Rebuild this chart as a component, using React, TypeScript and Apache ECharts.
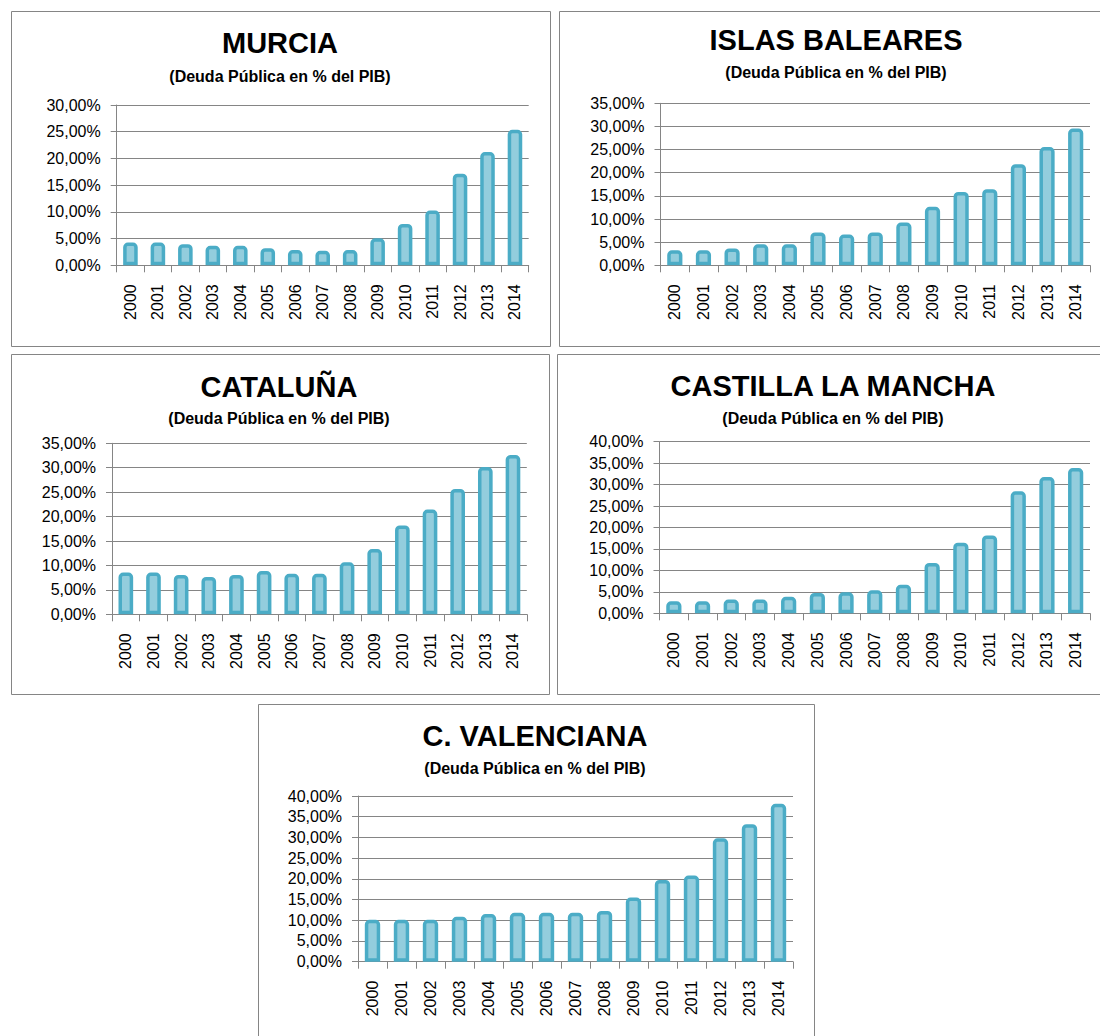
import React, { useEffect, useRef } from "react";
import * as echarts from "echarts";

const YEARS = ["2000", "2001", "2002", "2003", "2004", "2005", "2006", "2007", "2008", "2009", "2010", "2011", "2012", "2013", "2014"];

const MURCIA = [4.25, 4.25, 3.95, 3.65, 3.65, 3.2, 2.85, 2.7, 2.85, 5.05, 7.75, 10.25, 17.15, 21.2, 25.35];
const BALEARES = [3.25, 3.25, 3.65, 4.55, 4.55, 7.1, 6.65, 7.1, 9.25, 12.65, 15.85, 16.45, 21.85, 25.55, 29.55];
const CATALUNA = [8.55, 8.55, 8.05, 7.65, 8.05, 8.85, 8.3, 8.3, 10.65, 13.35, 18.2, 21.45, 25.65, 30.15, 32.6];
const CASTILLA = [2.8, 2.8, 3.2, 3.2, 3.85, 4.75, 4.9, 5.35, 6.65, 11.75, 16.45, 18.15, 28.45, 31.75, 33.85];
const VALENCIANA = [10.1, 10.1, 10.1, 10.85, 11.5, 11.8, 11.8, 11.8, 12.25, 15.5, 19.75, 20.8, 29.8, 33.2, 38.1];

const TITLES = ["MURCIA", "ISLAS BALEARES", "CATALUÑA", "CASTILLA LA MANCHA", "C. VALENCIANA"];
const SUBTITLE = "(Deuda Pública en % del PIB)";
const Y_MAX = [30, 35, 35, 40, 40];
const SERIES = [MURCIA, BALEARES, CATALUNA, CASTILLA, VALENCIANA];

// layout (pixels)
const BOXES = [
  { x: 11.5, y: 11.5, w: 539, h: 335 },
  { x: 559.5, y: 11.5, w: 570, h: 335 },
  { x: 11.5, y: 354.5, w: 538, h: 340 },
  { x: 557.5, y: 354.5, w: 570, h: 340 },
  { x: 258.5, y: 704.5, w: 556, h: 360 },
];
const GRIDS = [
  { left: 116.7, top: 105, width: 412, height: 160.3 },
  { left: 660.5, top: 103.3, width: 429.5, height: 162 },
  { left: 112, top: 443.3, width: 414.8, height: 171 },
  { left: 659.5, top: 441.7, width: 430.5, height: 171.6 },
  { left: 358, top: 796, width: 435, height: 165.7 },
];
const TITLE_POS = [
  { x: 280, ty: 42.5, sy: 76.3 },
  { x: 836, ty: 39.5, sy: 72 },
  { x: 279, ty: 386.5, sy: 418 },
  { x: 833, ty: 386, sy: 418 },
  { x: 535, ty: 736, sy: 768.5 },
];

const FONT = "Liberation Sans, Arial, sans-serif";
const GRAY = "#858585";

export default function App() {
  const ref = useRef<HTMLDivElement>(null);
  useEffect(() => {
    if (!ref.current) return;
    const chart = echarts.init(ref.current, null, { renderer: "svg" });
    const grid: any[] = [];
    const xAxis: any[] = [];
    const yAxis: any[] = [];
    const series: any[] = [];
    const graphic: any[] = [];
    const labelStyle = { fontSize: 16, fontFamily: FONT, color: "#000" };
    SERIES.forEach((data, i) => {
      grid.push({ ...GRIDS[i], containLabel: false });
      xAxis.push({
        type: "category",
        gridIndex: i,
        data: YEARS,
        axisLine: { show: true, lineStyle: { color: GRAY, width: 1 } },
        axisTick: { show: true, length: 7, lineStyle: { color: GRAY } },
        axisLabel: { ...labelStyle, rotate: 90, margin: 19, interval: 0 },
        splitLine: { show: false },
      });
      yAxis.push({
        type: "value",
        gridIndex: i,
        min: 0,
        max: Y_MAX[i],
        interval: 5,
        axisLine: { show: true, lineStyle: { color: GRAY, width: 1 } },
        axisTick: { show: true, length: 6, lineStyle: { color: GRAY } },
        axisLabel: {
          ...labelStyle,
          margin: 16,
          formatter: (v: number) => v.toFixed(2).replace(".", ",") + "%",
        },
        splitLine: { show: true, lineStyle: { color: GRAY, width: 1 } },
      });
      series.push({
        type: "bar",
        xAxisIndex: i,
        yAxisIndex: i,
        data,
        barWidth: "53%",
        itemStyle: { color: "#93CDDD", borderColor: "#4BACC6", borderWidth: 3.5, borderRadius: [3, 3, 0, 0] },
        emphasis: { disabled: true },
      });
      const b = BOXES[i];
      graphic.push({
        type: "rect",
        shape: { x: b.x, y: b.y, width: b.w, height: b.h },
        style: { fill: "none", stroke: GRAY, lineWidth: 1 },
        silent: true,
      });
      const t = TITLE_POS[i];
      graphic.push({
        type: "text",
        x: t.x,
        y: t.ty,
        style: { text: TITLES[i], fontSize: 29, fontWeight: "bold", fontFamily: FONT, fill: "#000", align: "center", verticalAlign: "middle" },
        silent: true,
      });
      graphic.push({
        type: "text",
        x: t.x,
        y: t.sy,
        style: { text: SUBTITLE, fontSize: 16, fontWeight: "bold", fontFamily: FONT, fill: "#000", align: "center", verticalAlign: "middle" },
        silent: true,
      });
    });
    chart.setOption({
      animation: false,
      backgroundColor: "#fff",
      textStyle: { fontFamily: FONT, fontSize: 16 },
      grid,
      xAxis,
      yAxis,
      series,
      graphic,
    });
    return () => chart.dispose();
  }, []);
  return <div ref={ref} style={{ position: "absolute", left: 0, top: 0, width: 1100, height: 1036 }} />;
}
